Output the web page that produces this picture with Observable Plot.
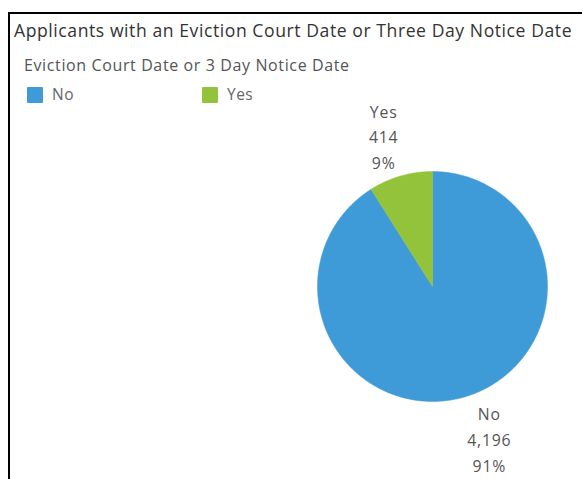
<!DOCTYPE html>
<html><head><meta charset="utf-8">
<script src="https://cdn.jsdelivr.net/npm/d3@7"></script>
<script src="https://cdn.jsdelivr.net/npm/@observablehq/plot@0.6"></script>
<style>
html,body{margin:0;padding:0;background:#fff}
body{width:582px;height:479px;overflow:hidden;position:relative;font-family:"Open Sans",Lato,sans-serif}
#frame{position:absolute;left:8px;top:12px;width:640px;height:520px;border-left:2px solid #000;border-top:2px solid #000;box-sizing:border-box}
#title{position:absolute;left:14px;top:18px;font-size:17.6px;letter-spacing:0.56px;color:#333;white-space:nowrap}
#ltitle{position:absolute;left:24px;top:54px;font-size:16px;letter-spacing:0.62px;color:#555;white-space:nowrap}
#legend{position:absolute;left:27px;top:86px}
#chart{position:absolute;left:0;top:0}
.sw{position:absolute;display:flex;align-items:center;font-size:15.5px;letter-spacing:0.5px;color:#666;white-space:nowrap;line-height:17px}
.sw span.b{display:inline-block;width:16px;height:16px;margin-right:9px;border-radius:1px}
</style></head>
<body>
<div id="frame"></div>
<div id="title">Applicants with an Eviction Court Date or Three Day Notice Date</div>
<div id="ltitle">Eviction Court Date or 3 Day Notice Date</div>
<div id="legend"></div>
<div id="chart"></div>
<script>
const categories = ["No", "Yes"];
const counts = [4196, 414];
const colors = ["#3f9bd7", "#93c23b"];

const total = d3.sum(counts);
const data = categories.map((c, i) => ({cat: c, value: counts[i]}));
const arcs = d3.pie().sort(null).value(d => d.value)(data);

// polygon vertices of each slice in unit-circle space (y up, angle clockwise from 12 o'clock)
const pts = [];
for (const a of arcs) {
  pts.push({cat: a.data.cat, x: 0, y: 0});
  const n = Math.max(2, Math.ceil((a.endAngle - a.startAngle) / (Math.PI / 360)));
  for (let k = 0; k <= n; k++) {
    const t = a.startAngle + (a.endAngle - a.startAngle) * k / n;
    pts.push({cat: a.data.cat, x: Math.sin(t), y: Math.cos(t)});
  }
  pts.push({cat: a.data.cat, x: 0, y: 0});
}
const labels = arcs.map(a => {
  const m = (a.startAngle + a.endAngle) / 2;
  return {
    x: 1.65 * Math.sin(m), y: 1.37 * Math.cos(m),
    text: `${a.data.cat}\n${d3.format(",")(a.data.value)}\n${Math.round(a.data.value / total * 100)}%`
  };
});

// legend
const leg = document.getElementById("legend");
const legendX = [0, 175];
categories.forEach((c, i) => {
  const d = document.createElement("div");
  d.className = "sw";
  d.style.left = legendX[i] + "px";
  d.style.top = "0px";
  d.innerHTML = `<span class="b" style="background:${colors[i]}"></span>${c}`;
  leg.appendChild(d);
});

const chart = Plot.plot({
  width: 582,
  height: 479,
  margin: 0,
  style: {background: "transparent", fontFamily: "'Open Sans', Lato, sans-serif", letterSpacing: "0.8px"},
  x: {domain: [-1, 1], range: [317, 547], axis: null},
  y: {domain: [-1, 1], range: [401, 171], axis: null},
  color: {domain: categories, range: colors},
  marks: [
    Plot.line(pts, {x: "x", y: "y", z: "cat", fill: "cat", stroke: "cat", strokeWidth: 0.5, curve: "linear"}),
    Plot.text(labels, {x: "x", y: "y", dx: 4, text: "text", fontSize: 15.8, lineHeight: 1.64, fill: "#555"})
  ]
});
document.getElementById("chart").appendChild(chart);
</script>
</body></html>
